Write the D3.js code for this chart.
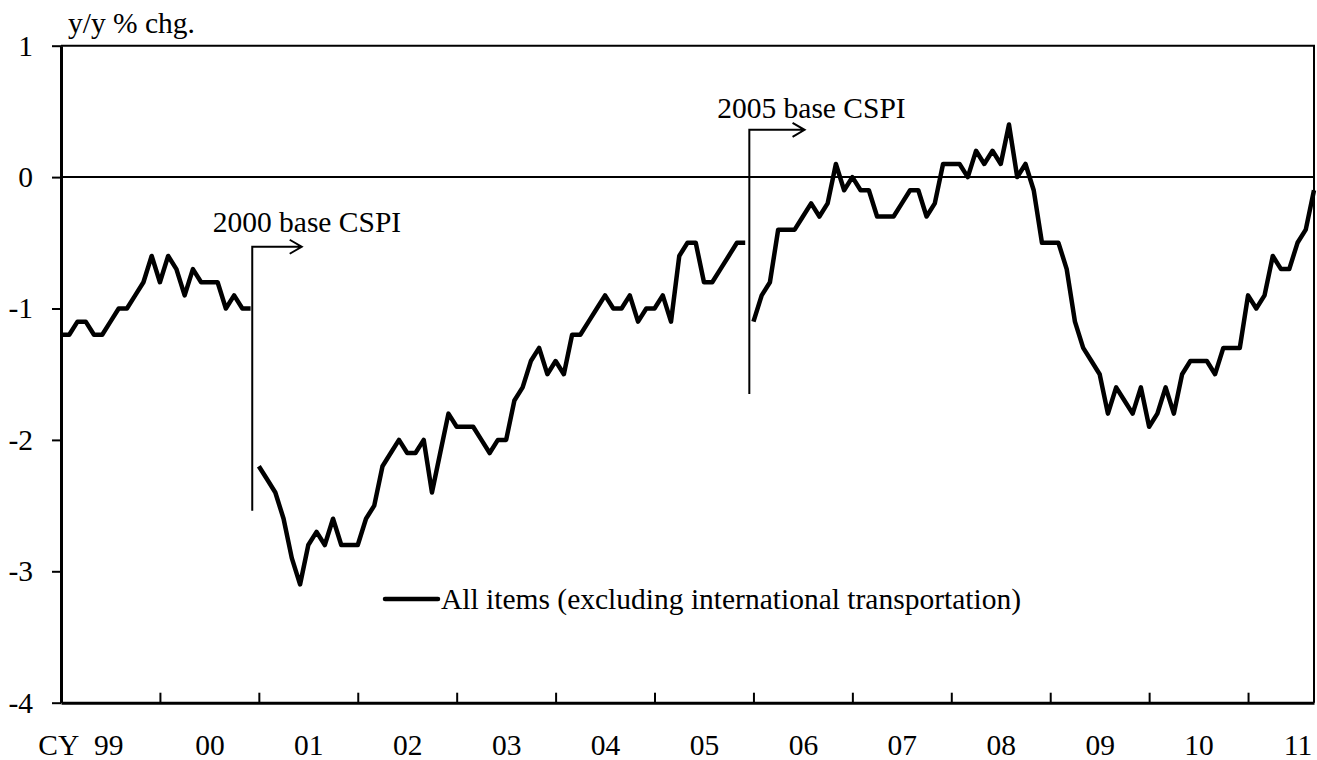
<!DOCTYPE html>
<html lang="en">
    <head>
        <meta charset="utf-8">
        <title>CSPI y/y % chg.</title>
        <script src="https://d3js.org/d3.v7.min.js"></script>
        <style>
            body { margin: 0; background: #fff; }
            text { font-family: "Liberation Serif", "Times New Roman", serif; fill: #000; }
        </style>
    </head>
    <body>
        <script type="text/javascript">

            var w = 1317;
            var h = 760;
            var fontSize = 29.5;

            // monthly y/y % chg., Jan 1999 = month 0
            var start1 = 0;   // 1999/01 - 2000/12
            var values1 = [-1.2, -1.2, -1.1, -1.1, -1.2, -1.2, -1.1, -1.0, -1.0, -0.9, -0.8, -0.6,
                           -0.8, -0.6, -0.7, -0.9, -0.7, -0.8, -0.8, -0.8, -1.0, -0.9, -1.0, -1.0];
            var start2 = 24;  // 2001/01 - 2005/12 (2000 base)
            var values2 = [-2.2, -2.3, -2.4, -2.6, -2.9, -3.1, -2.8, -2.7, -2.8, -2.6, -2.8, -2.8,
                           -2.8, -2.6, -2.5, -2.2, -2.1, -2.0, -2.1, -2.1, -2.0, -2.4, -2.1, -1.8,
                           -1.9, -1.9, -1.9, -2.0, -2.1, -2.0, -2.0, -1.7, -1.6, -1.4, -1.3, -1.5,
                           -1.4, -1.5, -1.2, -1.2, -1.1, -1.0, -0.9, -1.0, -1.0, -0.9, -1.1, -1.0,
                           -1.0, -0.9, -1.1, -0.6, -0.5, -0.5, -0.8, -0.8, -0.7, -0.6, -0.5, -0.5];
            var start3 = 84;  // 2006/01 - 2011/09 (2005 base)
            var values3 = [-1.1, -0.9, -0.8, -0.4, -0.4, -0.4, -0.3, -0.2, -0.3, -0.2, 0.1, -0.1,
                           0.0, -0.1, -0.1, -0.3, -0.3, -0.3, -0.2, -0.1, -0.1, -0.3, -0.2, 0.1,
                           0.1, 0.1, 0.0, 0.2, 0.1, 0.2, 0.1, 0.4, 0.0, 0.1, -0.1, -0.5,
                           -0.5, -0.5, -0.7, -1.1, -1.3, -1.4, -1.5, -1.8, -1.6, -1.7, -1.8, -1.6,
                           -1.9, -1.8, -1.6, -1.8, -1.5, -1.4, -1.4, -1.4, -1.5, -1.3, -1.3, -1.3,
                           -0.9, -1.0, -0.9, -0.6, -0.7, -0.7, -0.5, -0.4, -0.1];

            var yearLabels = ["99", "00", "01", "02", "03", "04", "05", "06", "07", "08", "09", "10", "11"];
            var yTicks = [-4, -3, -2, -1, 0, 1];
            var seriesName = "All items (excluding international transportation)";
            var yTitle = "y/y % chg.";

            var plotL = 61, plotR = 1314, plotT = 45.7, plotB = 702.7;

            var x = d3.scaleLinear().domain([0, 152]).range([plotL, plotR]);
            var y = d3.scaleLinear().domain([-4, 1]).range([plotB, plotT]);

            var svg = d3.select("body")
                        .append("svg")
                        .attr("width", w)
                        .attr("height", h)
                        .style("font-size", fontSize + "px");

            // frame (top and right)
            svg.append("path")
               .attr("d", "M" + plotL + "," + plotT + "H" + plotR + "V" + plotB)
               .attr("fill", "none")
               .attr("stroke", "#000")
               .attr("stroke-width", 2);

            // zero line
            svg.append("line")
               .attr("x1", plotL).attr("x2", plotR)
               .attr("y1", y(0)).attr("y2", y(0))
               .attr("stroke", "#000")
               .attr("stroke-width", 2);

            // y axis (plain hyphen minus, like the original)
            var yAxis = svg.append("g")
                           .attr("transform", "translate(" + plotL + ",0)")
                           .call(d3.axisLeft(y).tickValues(yTicks).tickSize(9).tickPadding(19).tickSizeOuter(0)
                                   .tickFormat(function(d) { return String(d); }));
            yAxis.select(".domain").attr("stroke-width", 3);
            yAxis.selectAll(".tick line").attr("stroke-width", 2);
            yAxis.selectAll("text").attr("font-size", fontSize).attr("font-family", null);

            // x axis: year ticks pointing up
            var yearTicks = d3.range(12, 145, 12);
            var xAxis = svg.append("g")
                           .attr("transform", "translate(0," + plotB + ")")
                           .call(d3.axisBottom(x).tickValues(yearTicks).tickSize(-10).tickSizeOuter(0).tickFormat(""));
            xAxis.select(".domain").attr("stroke-width", 3);
            xAxis.selectAll(".tick line").attr("stroke-width", 2);

            // year labels at mid-year
            var labelAxis = svg.append("g")
                               .attr("transform", "translate(0," + plotB + ")")
                               .call(d3.axisBottom(x)
                                   .tickValues(yearLabels.map(function(d, i) { return i * 12 + 6; }))
                                   .tickSize(0).tickPadding(31)
                                   .tickFormat(function(d, i) { return yearLabels[i]; }));
            labelAxis.select(".domain").remove();
            labelAxis.selectAll("text").attr("font-size", fontSize).attr("font-family", null);
            labelAxis.select(".tick text")
                     .attr("text-anchor", "end")
                     .attr("dx", 12.5)
                     .text("CY\u00a0\u00a099");

            // series line, broken at base revisions
            var line = d3.line()
                         .x(function(d) { return x(d.m); })
                         .y(function(d) { return y(d.v); });

            var segments = [[start1, values1], [start2, values2], [start3, values3]].map(function(s) {
                return s[1].map(function(v, i) { return { m: s[0] + i, v: v }; });
            });

            svg.selectAll(".series")
               .data(segments)
               .enter()
               .append("path")
               .attr("class", "series")
               .attr("d", line)
               .attr("fill", "none")
               .attr("stroke", "#000")
               .attr("stroke-width", 4.5)
               .attr("stroke-linejoin", "round");

            // base-change markers
            var markers = [
                { label: "2000 base CSPI", m: 23.2, top: -0.53, bot: -2.54, to: 29.2, tx: 18.4, ty: -0.42 },
                { label: "2005 base CSPI", m: 83.5, top: 0.36, bot: -1.65, to: 90.2, tx: 79.6, ty: 0.45 }
            ];

            var mk = svg.selectAll(".marker")
                        .data(markers)
                        .enter()
                        .append("g")
                        .attr("class", "marker");

            mk.append("path")
              .attr("d", function(d) {
                  var x0 = x(d.m), x1 = x(d.to), y0 = y(d.top);
                  return "M" + x0 + "," + y(d.bot) + "V" + y0 + "H" + x1 +
                         "M" + (x1 - 12) + "," + (y0 - 7) + "L" + x1 + "," + y0 + "L" + (x1 - 12) + "," + (y0 + 7);
              })
              .attr("fill", "none")
              .attr("stroke", "#000")
              .attr("stroke-width", 2);

            mk.append("text")
              .attr("x", function(d) { return x(d.tx); })
              .attr("y", function(d) { return y(d.ty); })
              .text(function(d) { return d.label; });

            // y title
            svg.append("text")
               .attr("x", 68)
               .attr("y", 33)
               .text(yTitle);

            // legend
            var legY = y(-3.21);
            svg.append("line")
               .attr("x1", 385).attr("x2", 438)
               .attr("y1", legY).attr("y2", legY)
               .attr("stroke", "#000")
               .attr("stroke-width", 4.5)
               .attr("stroke-linecap", "round");
            svg.append("text")
               .attr("x", 441)
               .attr("y", legY)
               .attr("dy", "0.35em")
               .text(seriesName);

        </script>
    </body>
</html>
